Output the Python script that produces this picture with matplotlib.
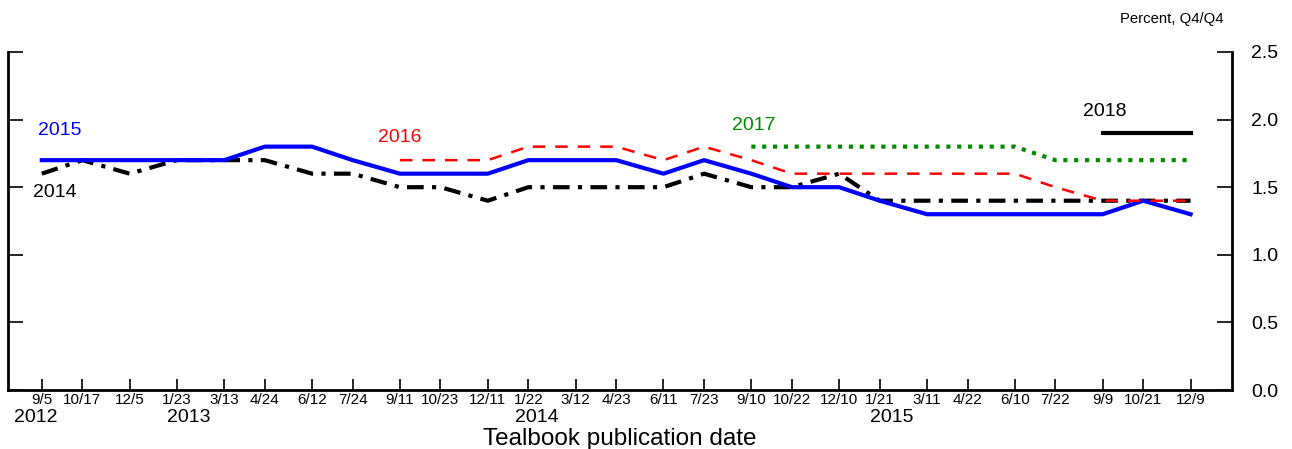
#!/usr/bin/env python3
"""Tealbook forecast of core inflation by publication date."""

import matplotlib
matplotlib.use("Agg")
import matplotlib.pyplot as plt
import matplotlib.transforms as mtransforms
import numpy as np
import pandas as pd

plt.rcParams["font.family"] = ["Liberation Sans", "DejaVu Sans"]

# ── Data ──
pub_dates = pd.to_datetime([
    "2012-09-05", "2012-10-17", "2012-12-05", "2013-01-23", "2013-03-13",
    "2013-04-24", "2013-06-12", "2013-07-24", "2013-09-11", "2013-10-23",
    "2013-12-11", "2014-01-22", "2014-03-12", "2014-04-23", "2014-06-11",
    "2014-07-23", "2014-09-10", "2014-10-22", "2014-12-10", "2015-01-21",
    "2015-03-11", "2015-04-22", "2015-06-10", "2015-07-22", "2015-09-09",
    "2015-10-21", "2015-12-09",
])
tick_labels = [f"{d.month}/{d.day}" for d in pub_dates]

nan = np.nan
y2014 = [1.6, 1.7, 1.6, 1.7, 1.7, 1.7, 1.6, 1.6, 1.5, 1.5, 1.4, 1.5, 1.5, 1.5,
         1.5, 1.6, 1.5, 1.5, 1.6, 1.4, 1.4, 1.4, 1.4, 1.4, 1.4, 1.4, 1.4]
y2015 = [1.7, 1.7, 1.7, 1.7, 1.7, 1.8, 1.8, 1.7, 1.6, 1.6, 1.6, 1.7, 1.7, 1.7,
         1.6, 1.7, 1.6, 1.5, 1.5, 1.4, 1.3, 1.3, 1.3, 1.3, 1.3, 1.4, 1.3]
y2016 = [nan] * 8 + [1.7, 1.7, 1.7, 1.8, 1.8, 1.8, 1.7, 1.8, 1.7, 1.6, 1.6,
                     1.6, 1.6, 1.6, 1.6, 1.5, 1.4, 1.4, 1.4]
y2017 = [nan] * 16 + [1.8, 1.8, 1.8, 1.8, 1.8, 1.8, 1.8, 1.7, 1.7, 1.7, 1.7]
y2018 = [nan] * 24 + [1.9, 1.9, 1.9]

years = ["2012", "2013", "2014", "2015"]
year_pos = pd.to_datetime(["2012-08-30", "2013-02-04", "2014-01-31", "2015-02-02"])

fig = plt.figure(figsize=(12.92, 4.49), dpi=100)
ax = fig.add_axes([0.0062, 0.1314, 0.9474, 0.7528])

ax.plot(pub_dates, y2014, color="black", lw=3.0, ls=(0, (4, 2, 1, 2)))
ax.plot(pub_dates, y2015, color="#0000ff", lw=3.0)
ax.plot(pub_dates, y2016, color="#ff0000", lw=1.8, ls=(0, (5, 4)))
ax.plot(pub_dates, y2017, color="#008c00", lw=3.0, ls=(0, (1, 1.6)))
ax.plot(pub_dates, y2018, color="black", lw=3.0)

# Series labels
lab_kw = dict(ha="center", va="center", fontsize=14)
ax.text(pd.Timestamp("2012-09-24"), 1.92, "2015", color="#0000ff", **lab_kw)
ax.text(pd.Timestamp("2012-09-18"), 1.46, "2014", color="black", **lab_kw)
ax.text(pd.Timestamp("2013-09-11"), 1.87, "2016", color="#ff0000", **lab_kw)
ax.text(pd.Timestamp("2014-09-13"), 1.96, "2017", color="#008c00", **lab_kw)
ax.text(pd.Timestamp("2015-09-11"), 2.06, "2018", color="black", **lab_kw)

ax.set_xlim(pd.Timestamp("2012-08-01"), pd.Timestamp("2016-01-21"))
ax.set_ylim(0, 2.5)

ax.spines["top"].set_visible(False)
for s in ("left", "right", "bottom"):
    ax.spines[s].set_linewidth(2)

ax.set_xticks(pub_dates)
ax.set_xticklabels(tick_labels, fontsize=11)
ax.tick_params(axis="x", direction="in", length=8, width=1.2, pad=2)

ax.set_yticks([0, 0.5, 1.0, 1.5, 2.0, 2.5])
ax.set_yticklabels(["0.0", "0.5", "1.0", "1.5", "2.0", "2.5"], fontsize=14)
ax.yaxis.set_ticks_position("both")
ax.tick_params(axis="y", direction="in", length=11, width=1.2,
               labelleft=False, labelright=True, pad=14)

trans = mtransforms.blended_transform_factory(ax.transData, ax.transAxes)
for yr, pos in zip(years, year_pos):
    ax.text(pos, -0.08, yr, transform=trans, ha="center", va="center", fontsize=14)

ax.text(0.5, -0.146, "Tealbook publication date", transform=ax.transAxes,
        ha="center", va="center", fontsize=17.5)
fig.text(0.947, 0.958, "Percent, Q4/Q4", ha="right", va="center", fontsize=10.7)

fig.savefig("out.png", dpi=100, facecolor="white")
